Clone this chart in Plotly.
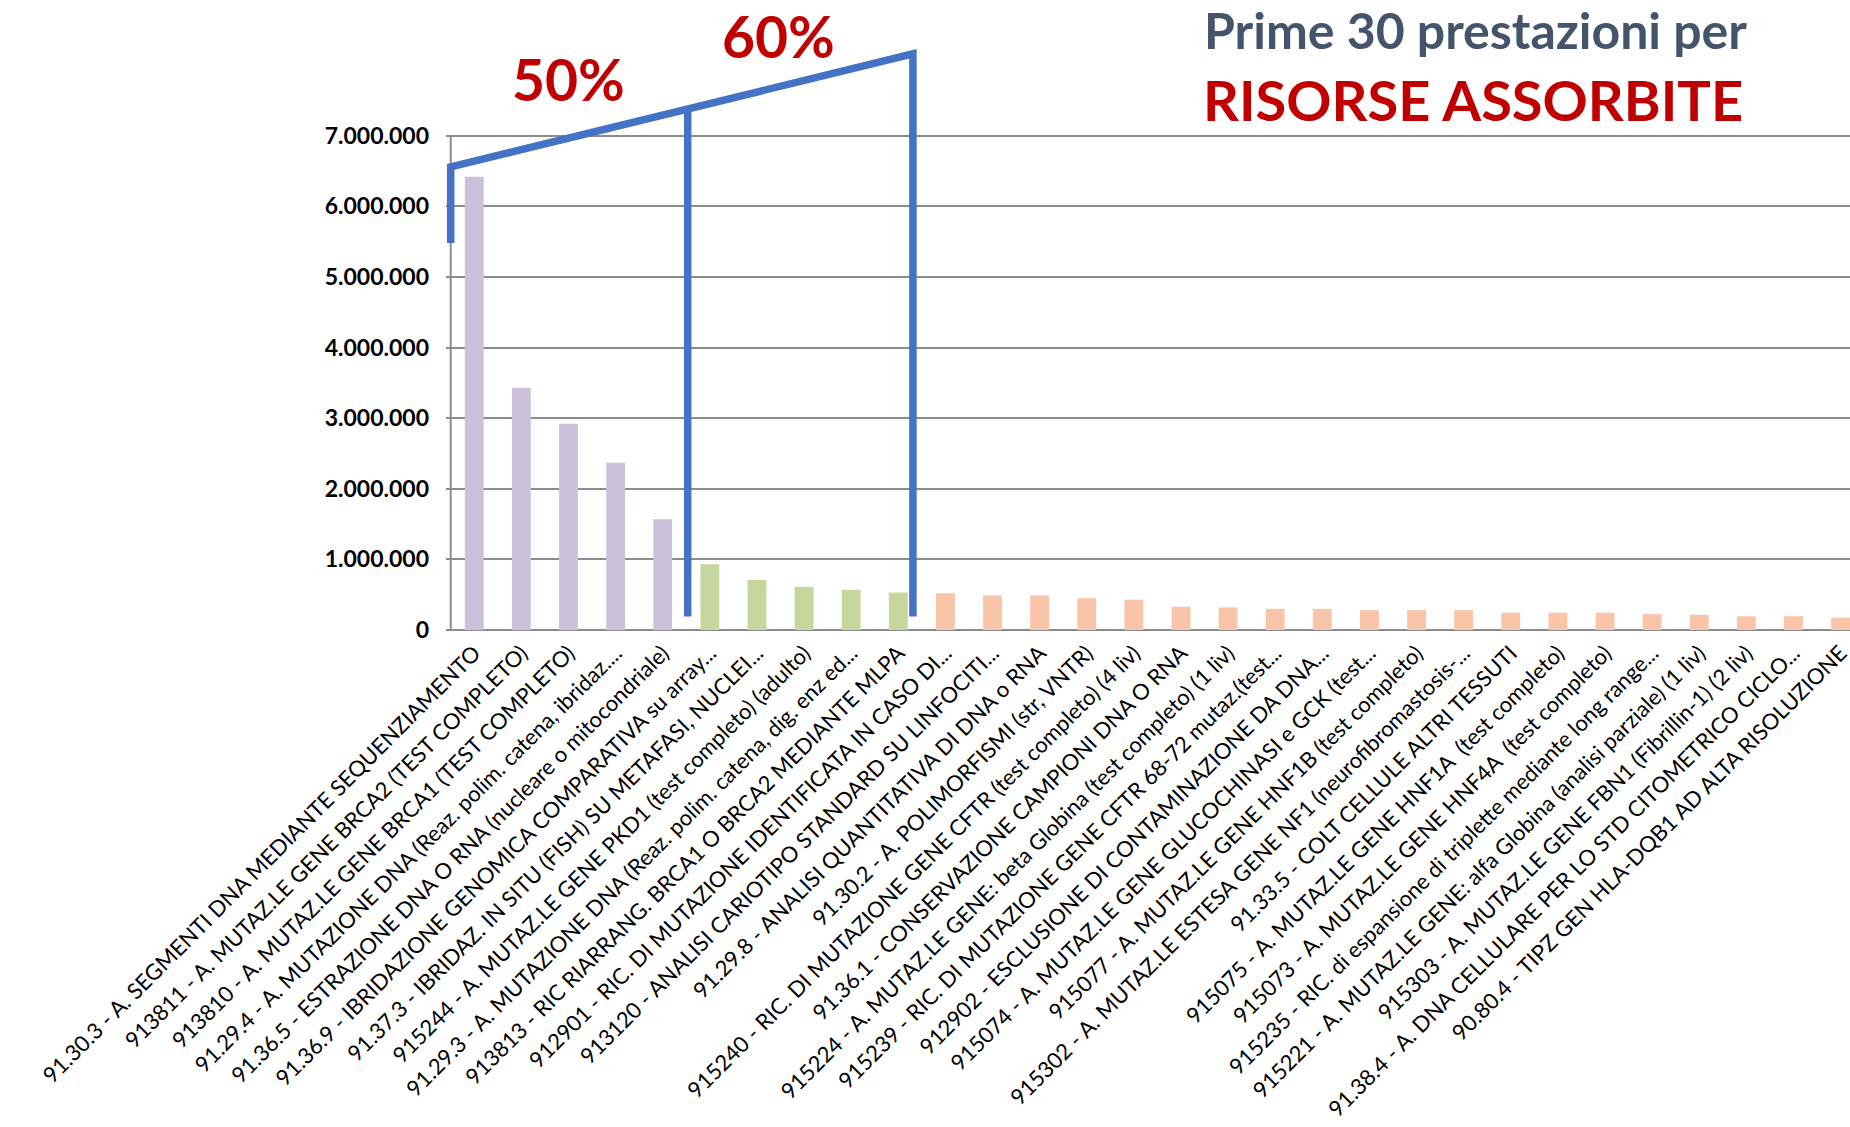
import plotly.graph_objects as go

categories = [
    "91.30.3 - A. SEGMENTI DNA MEDIANTE SEQUENZIAMENTO",
    "913811 - A. MUTAZ.LE GENE BRCA2 (TEST COMPLETO)",
    "913810 - A. MUTAZ.LE GENE BRCA1 (TEST COMPLETO)",
    "91.29.4 - A. MUTAZIONE DNA (Reaz. polim. catena, ibridaz....",
    "91.36.5 - ESTRAZIONE DNA O RNA (nucleare o mitocondriale)",
    "91.36.9 - IBRIDAZIONE GENOMICA COMPARATIVA su array...",
    "91.37.3 - IBRIDAZ. IN SITU (FISH) SU METAFASI, NUCLEI...",
    "915244 - A. MUTAZ.LE GENE PKD1 (test completo) (adulto)",
    "91.29.3 - A. MUTAZIONE DNA (Reaz. polim. catena, dig. enz ed...",
    "913813 - RIC RIARRANG. BRCA1 O BRCA2 MEDIANTE MLPA",
    "912901 - RIC. DI MUTAZIONE IDENTIFICATA IN CASO DI...",
    "913120 - ANALISI CARIOTIPO STANDARD SU LINFOCITI...",
    "91.29.8 - ANALISI QUANTITATIVA DI DNA o RNA",
    "91.30.2 - A. POLIMORFISMI (str, VNTR)",
    "915240 - RIC. DI MUTAZIONE GENE CFTR (test completo) (4 liv)",
    "91.36.1 - CONSERVAZIONE CAMPIONI DNA O RNA",
    "915224 - A. MUTAZ.LE GENE: beta Globina (test completo) (1 liv)",
    "915239 - RIC. DI MUTAZIONE GENE CFTR 68-72 mutaz.(test...",
    "912902 - ESCLUSIONE DI CONTAMINAZIONE DA DNA...",
    "915074 - A. MUTAZ.LE GENE GLUCOCHINASI e GCK (test...",
    "915077 - A. MUTAZ.LE GENE HNF1B (test completo)",
    "915302 - A. MUTAZ.LE ESTESA GENE NF1 (neurofibromastosis-...",
    "91.33.5 - COLT CELLULE ALTRI TESSUTI",
    "915075 - A. MUTAZ.LE GENE HNF1A  (test completo)",
    "915073 - A. MUTAZ.LE GENE HNF4A  (test completo)",
    "915235 - RIC. di espansione di triplette mediante long range...",
    "915221 - A. MUTAZ.LE GENE: alfa Globina (analisi parziale) (1 liv)",
    "915303 - A. MUTAZ.LE GENE FBN1 (Fibrillin-1) (2 liv)",
    "91.38.4 - A. DNA CELLULARE PER LO STD CITOMETRICO CICLO...",
    "90.80.4 - TIPZ GEN HLA-DQB1 AD ALTA RISOLUZIONE",
]

values = [
    6420000, 3430000, 2920000, 2370000, 1570000,
    930000, 710000, 610000, 570000, 530000,
    520000, 490000, 490000, 450000, 430000,
    330000, 320000, 300000, 300000, 280000,
    280000, 280000, 245000, 245000, 245000,
    225000, 215000, 195000, 195000, 175000,
]

groups = ["50%"] * 5 + ["60%"] * 5 + ["altre"] * 20
group_colors = {"50%": "#CCC1DA", "60%": "#C5D79C", "altre": "#F9C4A7"}

y_ticks = [0, 1000000, 2000000, 3000000, 4000000, 5000000, 6000000, 7000000]

# bracket annotation (category index, value)
bracket_x = [-0.5, -0.5, 9.31, 9.31]
bracket_y = [5480000, 6560000, 8160000, 190000]
mid_x = [4.53, 4.53]
mid_y = [7380000, 190000]

FONT = "Lato, 'Open Sans', sans-serif"
BLUE = "#4472C4"
RED = "#C00000"
GRID = "#8C8C8C"

fig = go.Figure()
fig.add_trace(go.Bar(
    x=list(range(len(categories))),
    y=values,
    width=0.4,
    marker=dict(color=[group_colors[g] for g in groups], line=dict(width=0)),
    showlegend=False,
))

def path_from(xs, ys):
    return "M " + " L ".join(f"{a},{b}" for a, b in zip(xs, ys))

shapes = [
    dict(type="line", xref="x", yref="y", x0=-0.5, x1=-0.5, y0=0, y1=7000000,
         line=dict(color=GRID, width=2), layer="below"),
    dict(type="path", xref="x", yref="y", path=path_from(bracket_x, bracket_y),
         line=dict(color=BLUE, width=7.5), layer="above"),
    dict(type="path", xref="x", yref="y", path=path_from(mid_x, mid_y),
         line=dict(color=BLUE, width=7.5), layer="above"),
]

W, H = 1850, 1127
L, R, T, B = 446, 0, 44, 497
pw, ph = W - L - R, H - T - B

def px(xp):
    return (xp - L) / pw

def py(yp):
    return (H - B - yp) / ph

annotations = [
    dict(text="<b>Prime 30 prestazioni per</b>", x=px(1475), y=py(30), xref="paper", yref="paper",
         showarrow=False, xanchor="center", yanchor="middle",
         font=dict(family=FONT, size=50, color="#44546A")),
    dict(text="<b>RISORSE ASSORBITE</b>", x=px(1473), y=py(100), xref="paper", yref="paper",
         showarrow=False, xanchor="center", yanchor="middle",
         font=dict(family=FONT, size=56, color=RED)),
    dict(text="<b>50%</b>", x=px(568), y=py(79), xref="paper", yref="paper",
         showarrow=False, xanchor="center", yanchor="middle",
         font=dict(family=FONT, size=57, color=RED)),
    dict(text="<b>60%</b>", x=px(778), y=py(36), xref="paper", yref="paper",
         showarrow=False, xanchor="center", yanchor="middle",
         font=dict(family=FONT, size=57, color=RED)),
]

fig.update_layout(
    width=W, height=H, autosize=False,
    margin=dict(l=L, r=R, t=T, b=B, pad=0),
    paper_bgcolor="white", plot_bgcolor="white",
    separators=",.",
    shapes=shapes,
    annotations=annotations,
    bargap=0.6,
)

fig.update_xaxes(
    type="linear",
    range=[-0.6, 29.2],
    tickmode="array",
    tickvals=list(range(len(categories))),
    ticktext=categories,
    tickangle=-45,
    tickfont=dict(family=FONT, size=22, color="#000000"),
    showgrid=False, zeroline=False, showline=False, ticks="",
    ticklabelstandoff=5,
    ticklabeloverflow="allow",
    automargin=False,
)

fig.update_yaxes(
    range=[0, 8300000],
    tickmode="array",
    tickvals=y_ticks,
    tickformat=",d",
    tickfont=dict(family=FONT, size=23, color="#000000", weight="bold"),
    showgrid=True, gridcolor=GRID, gridwidth=2,
    zeroline=True, zerolinecolor=GRID, zerolinewidth=2,
    showline=False, ticks="",
    ticklabelstandoff=16,
    automargin=False,
)

fig.write_html("out.html")
